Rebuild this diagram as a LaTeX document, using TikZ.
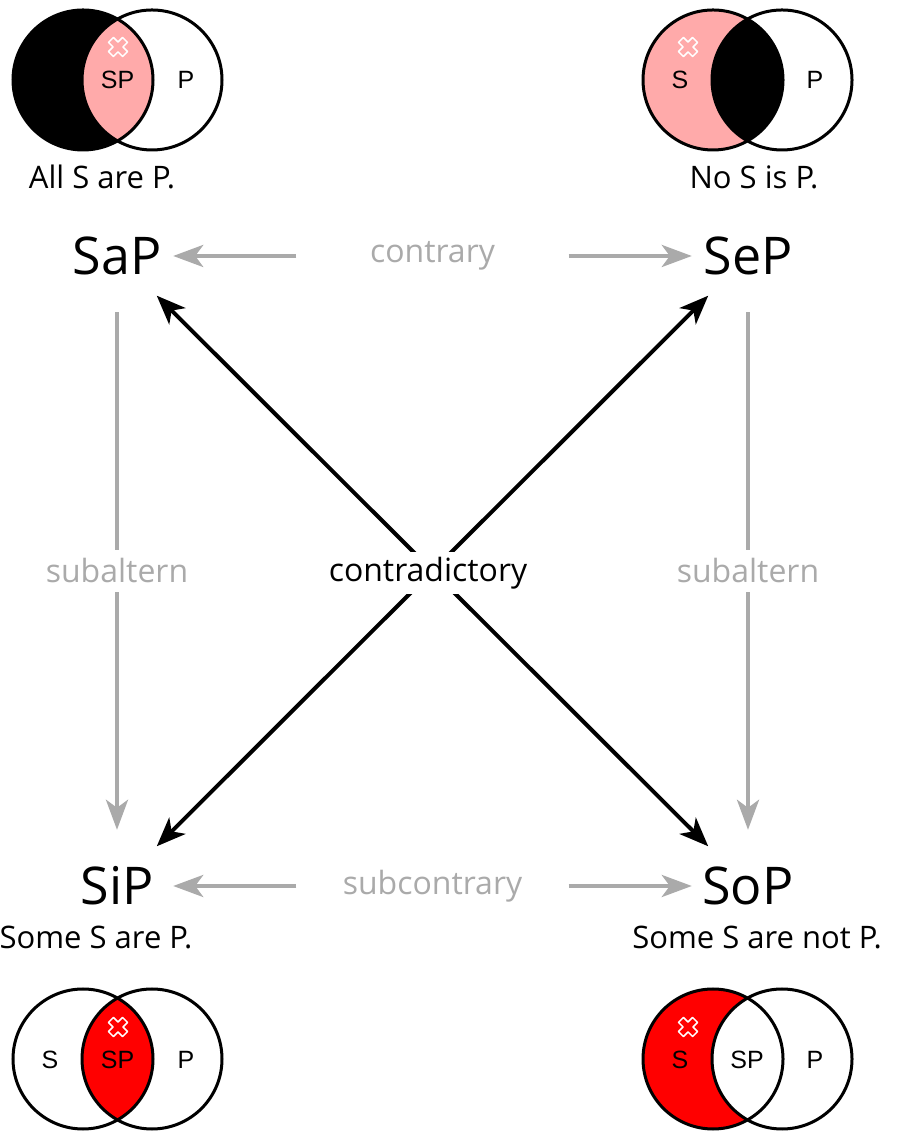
\documentclass[tikz,border=0pt]{standalone}
\usepackage{fontspec}
\setmainfont{Open Sans}
\newfontfamily\vennfont{Liberation Sans}
\usetikzlibrary{arrows.meta}

\definecolor{relColor}{RGB}{170,170,170}
\definecolor{lightRed}{RGB}{255,170,170}
\definecolor{fullRed}{RGB}{255,0,0}

\tikzset{
  corner/.style={circle,inner sep=0pt,minimum size=112pt,font=\fontsize{52}{60}\selectfont},
  relation/.style={text=relColor,inner sep=0pt,minimum height=42pt,font=\fontsize{32}{38}\selectfont},
  hrelation/.style={relation,minimum width=272pt},
  relarrow/.style={draw=relColor,line width=4pt,-{Stealth[length=30pt,width=22pt,inset=8pt]}},
  relline/.style={draw=relColor,line width=4pt},
  contra/.style={draw=black,line width=4pt,{Stealth[length=29pt,width=23pt,inset=8pt]}-{Stealth[length=29pt,width=23pt,inset=8pt]}},
  caption/.style={inner sep=0pt,font=\fontsize{31}{36}\selectfont},
  venn/.style={draw=black,line width=3pt},
  vennlabel/.style={inner sep=0pt,font=\vennfont\fontsize{25}{30}\selectfont},
  cross/.style={draw=white,line width=1.5pt,line join=round}
}

\begin{document}
\begin{tikzpicture}[x=1pt,y=1pt]
\path[use as bounding box,fill=white] (0,0) rectangle (897,1139);

% top left: all S are P
\fill[black] ( 83,1059) circle (70);
\begin{scope}
\clip ( 83,1059) circle (70);
\fill[lightRed] (152,1059) circle (70);
\end{scope}
\draw[venn] ( 83,1059) circle (70);
\draw[venn] (152,1059) circle (70);
\draw[cross,shift={(118,1092)},rotate=45] (-3.5,-10) -- (3.5,-10) -- (3.5,-3.5) -- (10,-3.5) -- (10,3.5) -- (3.5,3.5) -- (3.5,10) -- (-3.5,10) -- (-3.5,3.5) -- (-10,3.5) -- (-10,-3.5) -- (-3.5,-3.5) -- cycle;
\node[vennlabel] (aSP) at (117.5,1059) {SP};
\node[vennlabel] (aP) at (186,1059) {P};
\node[caption] (aText) at (102,962) {All S are P.};

% top right: no S is P
\fill[lightRed] (713,1059) circle (70);
\begin{scope}
\clip (713,1059) circle (70);
\fill[black] (782,1059) circle (70);
\end{scope}
\draw[venn] (713,1059) circle (70);
\draw[venn] (782,1059) circle (70);
\draw[cross,shift={(688,1092)},rotate=45] (-3.5,-10) -- (3.5,-10) -- (3.5,-3.5) -- (10,-3.5) -- (10,3.5) -- (3.5,3.5) -- (3.5,10) -- (-3.5,10) -- (-3.5,3.5) -- (-10,3.5) -- (-10,-3.5) -- (-3.5,-3.5) -- cycle;
\node[vennlabel] (eS) at (680,1059) {S};
\node[vennlabel] (eP) at (815,1059) {P};
\node[caption] (eText) at (754,962) {No S is P.};

% bottom left: some S are P
\begin{scope}
\clip ( 83,80) circle (70);
\fill[fullRed] (152,80) circle (70);
\end{scope}
\draw[venn] ( 83,80) circle (70);
\draw[venn] (152,80) circle (70);
\draw[cross,shift={(118,112)},rotate=45] (-3.5,-10) -- (3.5,-10) -- (3.5,-3.5) -- (10,-3.5) -- (10,3.5) -- (3.5,3.5) -- (3.5,10) -- (-3.5,10) -- (-3.5,3.5) -- (-10,3.5) -- (-10,-3.5) -- (-3.5,-3.5) -- cycle;
\node[vennlabel] (iS) at ( 50,79) {S};
\node[vennlabel] (iSP) at (117.5,79) {SP};
\node[vennlabel] (iP) at (186,79) {P};
\node[caption] (iText) at ( 96,202) {Some S are P.};

% bottom right: some S are not P
\fill[fullRed] (713,80) circle (70);
\fill[white] (782,80) circle (70);
\draw[venn] (713,80) circle (70);
\draw[venn] (782,80) circle (70);
\draw[cross,shift={(688,112)},rotate=45] (-3.5,-10) -- (3.5,-10) -- (3.5,-3.5) -- (10,-3.5) -- (10,3.5) -- (3.5,3.5) -- (3.5,10) -- (-3.5,10) -- (-3.5,3.5) -- (-10,3.5) -- (-10,-3.5) -- (-3.5,-3.5) -- cycle;
\node[vennlabel] (oS) at (680,79) {S};
\node[vennlabel] (oSP) at (747,79) {SP};
\node[vennlabel] (oP) at (815,79) {P};
\node[caption] (oText) at (757,202) {Some S are not P.};

% square of opposition
\node[corner] (SaP) at (117,883) {SaP};
\node[corner] (SeP) at (748,883) {SeP};
\node[corner] (SiP) at (117,253) {SiP};
\node[corner] (SoP) at (748,253) {SoP};

\node[hrelation] (contrary) at (432.5,883) {contrary};
\node[hrelation] (subcontrary) at (432.5,253) {subcontrary};
\node[relation] (subaltI) at (117,568) {subaltern};
\node[relation] (subaltO) at (748,568) {subaltern};

\draw[relarrow] (contrary) -- (SaP);
\draw[relarrow] (contrary) -- (SeP);
\draw[relarrow] (subcontrary) -- (SiP);
\draw[relarrow] (subcontrary) -- (SoP);
\draw[relline] (SaP) -- (subaltI);
\draw[relarrow] (subaltI) -- (SiP);
\draw[relline] (SeP) -- (subaltO);
\draw[relarrow] (subaltO) -- (SoP);

\draw[contra] (SaP) -- (SoP);
\draw[contra] (SiP) -- (SeP);
\node[fill=white,inner sep=5pt,font=\fontsize{32}{38}\selectfont] (contradictory) at (428,566) {contradictory};
\end{tikzpicture}
\end{document}
